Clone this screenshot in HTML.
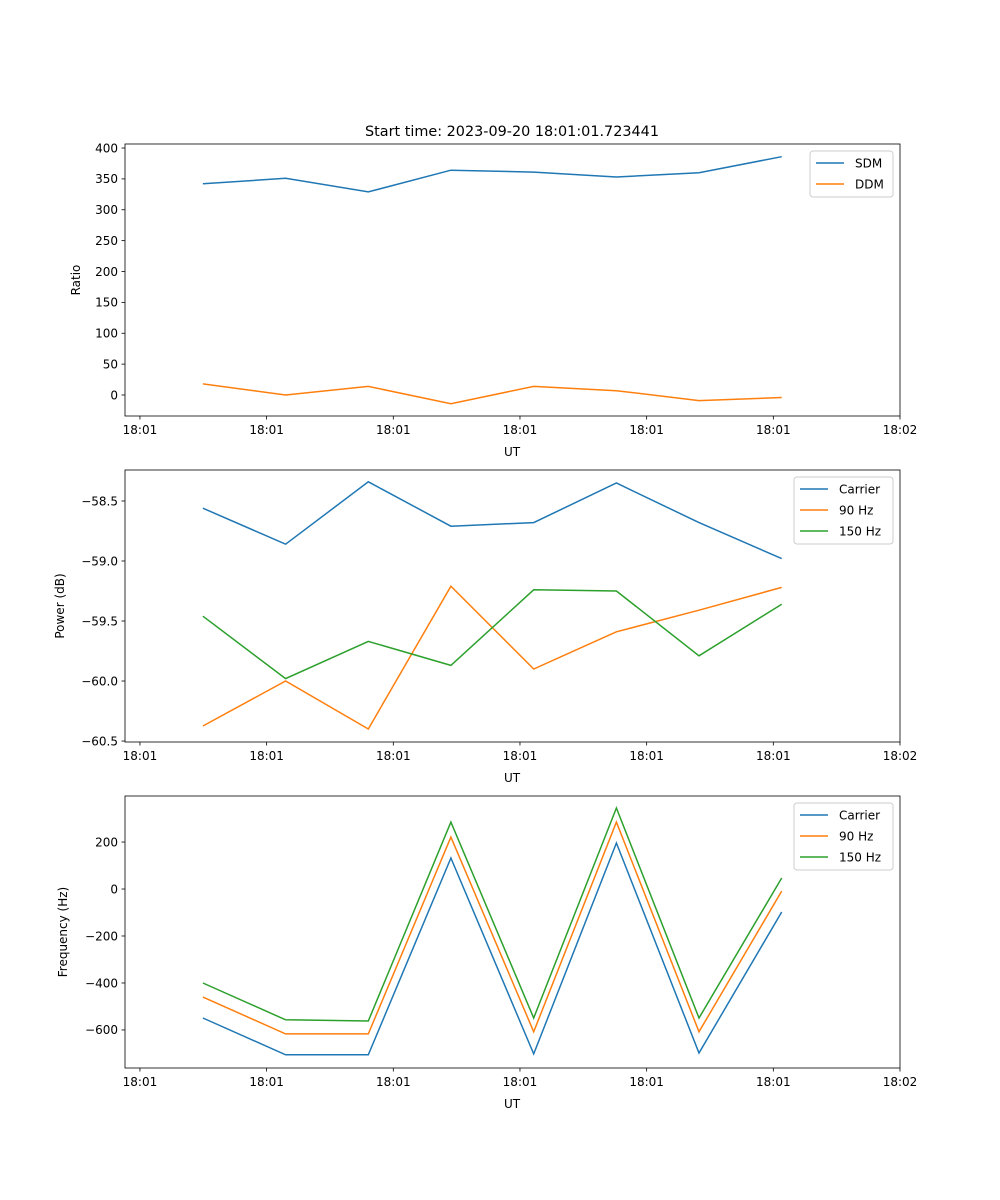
<!DOCTYPE html>
<html><head><meta charset="utf-8"><style>
html,body{margin:0;padding:0;background:#fff}
svg{display:block;font-family:"DejaVu Sans","Liberation Sans",sans-serif}
</style></head><body>
<svg id="fig" width="1000" height="1200" viewBox="0 0 1000 1200">
<rect width="1000" height="1200" fill="#fff"/>
<text x="512" y="136" font-size="14.4" text-anchor="middle">Start time: 2023-09-20 18:01:01.723441</text>
</svg>
<script>
const times = [54.497, 55.150, 55.803, 56.455, 57.108, 57.761, 58.413, 59.066];
const xTickValues = [54, 55, 56, 57, 58, 59, 60];
const xTickLabels = ["18:01","18:01","18:01","18:01","18:01","18:01","18:02"];
const sdm = [342, 351, 329, 364, 361, 353, 360, 386];
const ddm = [18, 0, 14, -14, 14, 7, -9, -4];
const powCarrier = [-58.56, -58.86, -58.34, -58.71, -58.68, -58.35, -58.68, -58.98];
const pow90 = [-60.375, -60.0, -60.4, -59.21, -59.9, -59.59, -59.41, -59.22];
const pow150 = [-59.46, -59.98, -59.67, -59.87, -59.24, -59.25, -59.79, -59.36];
const freqCarrier = [-549, -706, -706, 132, -702, 196, -698, -98];
const freq90 = [-460, -617, -617, 221, -608, 285, -608, -9];
const freq150 = [-400, -557, -562, 285, -549, 345, -549, 47];
const ticks1 = [0, 50, 100, 150, 200, 250, 300, 350, 400];
const ticks2 = [-60.5, -60.0, -59.5, -59.0, -58.5];
const ticks3 = [-600, -400, -200, 0, 200];

const NS = "http://www.w3.org/2000/svg";
const svg = document.getElementById("fig");
const L = 125, R = 900, X0 = 53.882, X1 = 60;
function xs(t){ return L + (t - X0) / (X1 - X0) * (R - L); }
function mk(tag, attrs, parent){ const e = document.createElementNS(NS, tag); for (const k in attrs) e.setAttribute(k, attrs[k]); (parent||svg).appendChild(e); return e; }

function panel(id, top, bot, y0, y1, yticks, fmt, ylabel, series, legW){
  const g = mk("g", {});
  
  
  const ys = v => bot - (v - y0) / (y1 - y0) * (bot - top);
  series.forEach(s => {
    const p = mk("polyline", {points: s.data.map((v,i)=>xs(times[i]).toFixed(1)+","+ys(v).toFixed(1)).join(" "), fill:"none", stroke:s.color, "stroke-width":1.5}, g);
    
    
  });
  const fr = mk("rect", {x:L, y:top, width:R-L, height:bot-top, fill:"none", stroke:"#000", "stroke-width":0.8}, g);
  
  
  xTickValues.forEach((t,i) => {
    const x = xs(t);
    mk("line", {x1:x, x2:x, y1:bot, y2:bot+3.5, stroke:"#000", "stroke-width":0.8}, g);
    const tx = mk("text", {x:x, y:bot+18, "font-size":12, "text-anchor":"middle"}, g);
    tx.textContent = xTickLabels[i];
    
    
  });
  yticks.forEach(v => {
    const y = ys(v);
    mk("line", {x1:L-3.5, x2:L, y1:y, y2:y, stroke:"#000", "stroke-width":0.8}, g);
    const tx = mk("text", {x:L-7, y:y+4.3, "font-size":12, "text-anchor":"end"}, g);
    tx.textContent = fmt(v);
    
    
  });
  const xl = mk("text", {x:512, y:bot+40, "font-size":12, "text-anchor":"middle"}, g);
  xl.textContent = "UT";
  
  
  const yl = mk("text", {x:0, y:0, "font-size":12, "text-anchor":"middle", transform:"translate("+ylabel.x+","+((top+bot)/2)+") rotate(-90)"}, g);
  yl.textContent = ylabel.text;
  
  
  const lx = R - 7 - legW, ly = top + 7, lh = 4 + series.length * 21;
  const lg = mk("g", {}, g);
  
  
  mk("rect", {x:lx, y:ly, width:legW, height:lh, rx:3, fill:"#fff", "fill-opacity":0.8, stroke:"#ccc", "stroke-width":1}, lg);
  series.forEach((s,i) => {
    const yy = ly + 12 + i * 21;
    mk("line", {x1:lx+6, x2:lx+34, y1:yy, y2:yy, stroke:s.color, "stroke-width":1.5}, lg);
    const t = mk("text", {x:lx+45, y:yy+4.5, "font-size":12}, lg);
    t.textContent = s.name;
    
    
  });
}
const minus = s => s.replace("-", "\u2212");
panel("ratio", 144, 416, -34, 406.5, ticks1, v => minus(String(v)), {x:80, text:"Ratio"},
  [{key:"sdm", name:"SDM", color:"#1f77b4", data:sdm},{key:"ddm", name:"DDM", color:"#ff7f0e", data:ddm}], 83);
panel("power", 470, 742, -60.508, -58.242, ticks2, v => minus(v.toFixed(1)), {x:64, text:"Power (dB)"},
  [{key:"carrier", name:"Carrier", color:"#1f77b4", data:powCarrier},{key:"90hz", name:"90 Hz", color:"#ff7f0e", data:pow90},{key:"150hz", name:"150 Hz", color:"#2ca02c", data:pow150}], 99);
panel("frequency", 796, 1068, -762, 396, ticks3, v => minus(String(v)), {x:67, text:"Frequency (Hz)"},
  [{key:"carrier-f", name:"Carrier", color:"#1f77b4", data:freqCarrier},{key:"90hz-f", name:"90 Hz", color:"#ff7f0e", data:freq90},{key:"150hz-f", name:"150 Hz", color:"#2ca02c", data:freq150}], 99);
</script>
</body></html>
